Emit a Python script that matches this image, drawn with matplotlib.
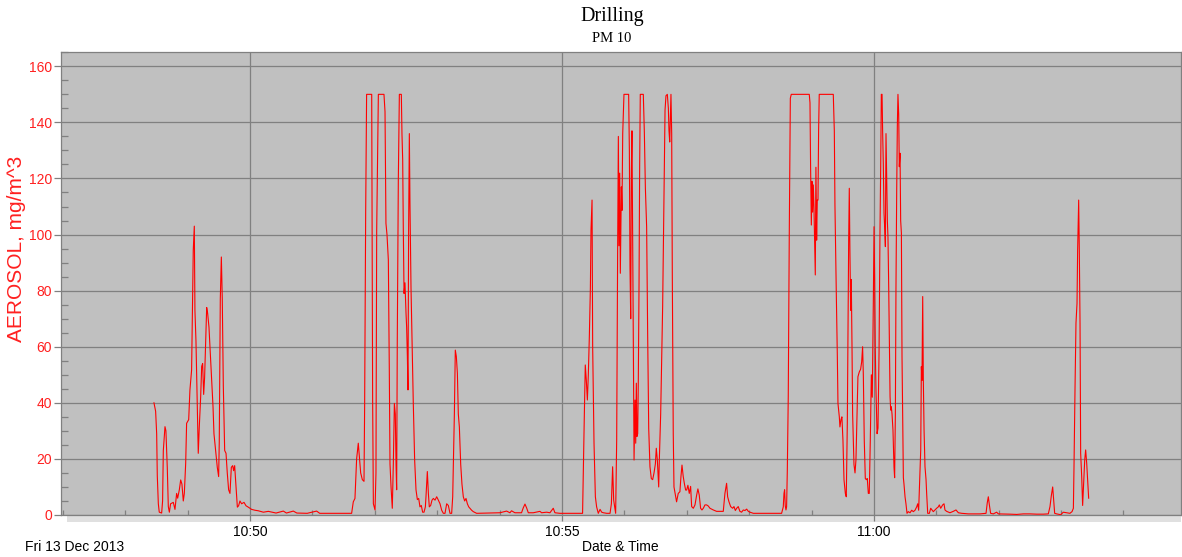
"""Drilling - PM 10 aerosol trace"""

import matplotlib
matplotlib.use('Agg')
import matplotlib.pyplot as plt
import matplotlib.dates as mdates
from matplotlib.patches import Rectangle
from datetime import datetime, timedelta

# seconds after 10:48:00 and aerosol readings (mg/m^3)
burst1_t = [27.6, 29.2, 30.2, 30.8, 31.8, 32.7, 35.0, 35.9, 36.6, 38.2, 39.1, 40.4,
            41.4, 42.4, 43.6, 46.2, 47.8, 49.4, 50.4, 52.0, 53.3, 54.5, 55.8, 56.8,
            58.1, 59.0, 61.0, 62.2, 63.8, 64.5, 65.4, 66.4, 67.0, 68.0, 69.3, 70.2,
            71.2, 72.5, 73.5, 74.4, 75.4, 76.3, 77.3, 78.3, 79.2, 80.5, 81.8, 83.1,
            84.4, 85.3, 87.2, 88.5, 89.8, 90.4, 91.4, 92.4, 93.3, 94.3, 95.6, 96.9,
            98.1, 99.4, 100.7, 102.0, 103.3, 104.2, 105.2, 106.5, 107.8, 109.0, 110.3,
            111.9, 114.2, 116.1, 118.3, 121.5, 124.7, 128.0, 132.8, 137.6]
burst1_v = [40, 37, 29, 14, 4, 1, 0.7, 5, 23, 31.5, 30, 17,
            3, 1, 4, 4.5, 2, 7.7, 6, 9, 12.5, 11, 5, 7.7,
            18.4, 32.7, 34, 44.6, 51.7, 71, 94.5, 103, 73, 62, 38.6, 22,
            31.5, 42, 53, 54, 43, 49, 62, 74, 72, 67, 57.7, 49,
            38.6, 29, 22, 17, 13.7, 26, 77, 92, 77, 46, 23, 22,
            15, 9, 7.7, 17, 17.6, 15.8, 17.6, 10, 2.8, 3.3, 5,
            4, 4.5, 3.3, 2.8, 2, 1.7, 1.5, 1, 1.3]

quiet1_t = [145, 152, 155, 161.6, 165, 175, 184, 187, 200, 217.7]
quiet1_v = [0.7, 1.4, 0.7, 1.4, 0.7, 0.6, 1.4, 0.6, 0.6, 0.6]

burst2_t = [219.3, 220.9, 222.5, 224.1, 225.1, 226.4, 228.0, 229.6, 230.2, 231.2,
            232.1, 237.0, 237.3, 237.9, 238.6, 240.2, 241.1, 241.8, 243.4, 248.8,
            249.8, 250.7, 251.7, 253.0, 253.9, 254.6, 255.6, 256.8, 257.8, 258.8,
            259.7, 260.4, 261.0, 261.6, 262.6, 263.6, 265.5, 266.1, 266.8, 267.4,
            268.1, 269.0, 270.0, 270.6, 271.3, 271.9, 272.5, 273.2, 273.8, 274.8,
            275.7, 277.0, 278.3, 279.6, 280.9, 282.2, 283.4, 284.7, 286.0, 287.3,
            288.6, 289.2, 290.5, 291.5, 292.4, 293.7, 295.0, 296.3, 297.9, 299.5,
            301.1, 302.7, 304.3, 305.9, 307.5, 309.1, 310.7, 312.3, 313.9, 314.9,
            315.5, 316.5, 317.4, 318.4, 319.4, 320.3, 321.3, 322.6, 323.8, 325.1,
            326.4, 327.7, 329.0, 330.3, 331.5, 333.1, 334.7, 337.9]
burst2_v = [4.7, 5.9, 20, 25.6, 21, 15, 12.6, 12, 38.6, 107.6,
            150, 150, 113.5, 41, 4, 1.8, 15, 101.6, 150, 150,
            143.8, 104, 100, 91, 52.9, 18.2, 10, 2.4, 18.2, 39.8,
            36, 18, 9, 62.4, 119.5, 150, 150, 136, 126.6, 101.6,
            79, 82.8, 72, 67, 56.5, 44.6, 101.6, 136, 111, 81,
            63.6, 39.8, 19.6, 9, 5.5, 5.9, 2.9, 3.4, 1, 1,
            2.9, 6.5, 15.5, 7.7, 2.9, 3.4, 5.3, 5.9, 5.3, 6.5,
            5.3, 4, 1.7, 0.6, 0.6, 4, 3.4, 0.6, 0.6, 6.5,
            18, 36, 58.8, 56.5, 50.5, 36, 31.4, 18, 11, 6.5,
            5, 5.9, 4, 2.9, 2.4, 1.7, 1.2, 0.6]

quiet2_t = [360.3, 366.7, 369.9, 371.5, 374.7, 381.1, 382.7, 384.4, 386.0, 387.6,
            392.4, 398.8, 400.4, 405.2, 408.4, 411.6, 413.2, 418.0, 439.8]
quiet2_v = [0.8, 1.4, 0.8, 1.5, 0.8, 0.8, 2.5, 3.9, 2.5, 0.8,
            0.8, 1.3, 0.8, 1.0, 0.8, 2.4, 0.8, 0.6, 0.6]

burst3_t = [440.5, 441.5, 442.4, 443.4, 444.4, 445.3, 446.3, 447.3, 447.9, 448.9,
            449.5, 450.8, 452.1, 453.3, 454.9, 456.6, 458.2, 459.8, 463.0, 466.2,
            467.5, 468.7, 469.7, 470.7, 471.6, 472.6, 473.5, 474.2, 474.8, 475.5,
            476.1, 477.1, 477.7, 478.4, 479.6, 484.1, 484.8, 485.4, 486.1, 486.7,
            487.3, 488.0, 488.6, 489.3, 490.2, 490.9, 491.5, 492.1, 492.8, 493.4,
            494.1, 494.7, 495.3, 498.2, 499.2, 500.2, 501.4, 502.4, 503.4, 504.6,
            505.9, 507.2, 508.5, 509.8, 510.7, 511.7, 513.0, 513.6, 514.9, 515.9,
            516.8, 518.1, 519.1, 520.0, 521.3, 522.3, 522.9, 523.6, 524.2, 524.8,
            525.5, 526.1, 527.0, 527.7, 530.2, 531.8, 533.4, 534.4, 535.4, 536.6,
            537.6, 538.9, 539.9, 541.1, 542.4, 543.7, 544.7, 546.3, 547.9, 549.5,
            550.7, 552.0, 553.3, 554.6, 555.9, 557.5, 559.1, 560.7, 562.3, 565.5,
            568.7, 571.9, 575.1, 576.7, 578.3, 579.3, 580.6, 582.2, 584.1, 585.4,
            586.7, 588.0, 589.5, 591.1, 592.7, 594.4, 596.0, 597.6, 599.2, 600.8,
            604.0, 631.2]
burst3_v = [15.5, 36, 53.5, 48, 41, 49.7, 63.6, 80.8, 101.6, 112.3,
            60, 25.6, 6.5, 2.9, 0.6, 2, 1, 0.8, 0.6, 0.6,
            4, 17.2, 5.3, 2.9, 0.6, 26.7, 93.3, 135, 96, 121.9,
            86.2, 117, 108.6, 136, 150, 150, 130, 88.5, 70, 123,
            137, 93, 62, 19.6, 41, 25.6, 47, 28, 29, 48,
            82.8, 124.8, 150, 150, 136.5, 116.5, 102.8, 64, 30.9, 17.2,
            13, 12.6, 15, 18.2, 23.8, 19.6, 10, 19.6, 36, 55.3,
            74.3, 113.5, 144.4, 149.5, 150, 145, 137, 133, 141.5, 150,
            136, 85, 29, 10, 4.7, 7.7, 8.3, 13.7, 17.8, 13.7,
            11.4, 8.9, 8.9, 10.6, 7.7, 10.2, 3, 2.4, 3.6, 7.1,
            9.3, 7.1, 2.4, 1.8, 2.4, 3.6, 3.6, 3.2, 2.4, 1.8,
            1.3, 1.3, 1.3, 7.7, 11.3, 6.5, 4.7, 3, 2.4, 3,
            1.6, 2.4, 3, 1.3, 1, 1.8, 1.6, 2.1, 1.3, 1,
            0.6, 0.6]

burst4_t = [632.8, 633.5, 634.1, 634.7, 635.4, 636.0, 636.7, 637.6, 638.6, 639.6,
            640.5, 657.8, 658.5, 659.1, 659.8, 660.4, 661.0, 661.7, 662.3, 663.0,
            663.6, 664.2, 664.9, 665.5, 666.2, 666.8, 667.4, 680.9, 681.9, 682.5,
            683.2, 683.8, 684.8, 685.4, 686.7, 687.3, 688.3, 689.2, 690.2, 691.2,
            692.5, 693.4, 694.4, 695.0, 695.7, 696.3, 696.9, 697.6, 698.2, 698.9,
            699.5, 700.8, 701.8, 702.7, 703.7, 704.6, 705.9, 707.2, 708.2, 709.1,
            709.8, 710.7, 711.7, 712.7, 713.6, 714.6, 715.5, 716.5, 717.5, 718.4,
            719.4, 720.1, 720.7, 721.3, 722.0, 723.0, 723.9, 724.9, 725.8, 726.5,
            727.1, 727.8, 728.4, 729.0, 729.7, 730.3, 731.0, 731.6, 732.2, 732.9,
            733.5, 734.2, 734.8, 735.5, 736.1, 736.7, 737.4, 738.3, 739.3, 739.9,
            740.6, 741.2, 741.9, 742.5, 743.1, 743.8, 744.4, 745.1, 745.7, 746.4,
            747.0, 747.6, 748.3, 748.9, 749.9, 750.8, 751.8]
burst4_v = [2.9, 7.7, 9, 3.4, 1.8, 2.9, 16, 42.2, 101.6, 148.6,
            150, 150, 147, 123.6, 103.4, 119, 108, 117.7, 110, 96.9,
            85.6, 124, 98, 112.3, 112.3, 137.3, 150, 150, 137, 110.5,
            92.7, 79.1, 56.5, 39.8, 35, 31.4, 34, 35, 26.7, 12.6,
            7.7, 6.5, 33, 64, 98, 116.5, 94, 73, 84, 60.4,
            36, 18, 15, 19.6, 34.4, 49.3, 51, 52, 54.6, 60,
            50, 26.7, 13, 12.6, 13, 7.7, 7.7, 26.7, 50, 42,
            75.5, 102.8, 84, 58.8, 44, 29, 31, 57.7, 100.5, 124.2,
            150, 150, 136, 125.4, 107.6, 102.8, 95.7, 136, 121.9, 105,
            99, 81.4, 62, 42.2, 37.4, 38.6, 36, 30.3, 17, 13.3,
            36, 81.4, 116, 138.6, 150, 143, 124.2, 129, 105, 100.5,
            56.5, 36, 13.3, 11, 6.5, 4, 0.6]

tail_t = [753.1, 754.7, 756.3, 757.9, 759.5, 761.1, 762.1, 763.0, 764.3, 765.0,
          765.6, 766.2, 766.9, 767.5, 768.2, 769.1, 770.1, 770.7, 771.7, 773.3,
          774.6, 775.8, 777.1, 778.7, 780.3, 781.9, 782.9, 784.2, 786.1, 787.4,
          788.3, 789.9, 793.1, 796.3, 798.9, 801.2, 804.4, 810.8, 822.0, 827.8,
          829.0, 830.0, 831.0, 832.2, 834.8, 838.0, 839.6, 850.8, 857.3, 863.7,
          870.1, 876.5, 882.9, 887.7, 889.3, 890.6, 891.9, 892.8, 893.8, 895.7,
          899.6, 902.1, 908.5, 910.5, 911.8, 912.4, 913.4, 914.3, 915.3, 915.9,
          916.9, 917.5, 918.2, 918.8, 919.8, 920.7, 921.7, 922.7, 923.6, 924.6,
          925.5, 926.5]
tail_v = [1.2, 0.8, 1.7, 1.2, 1.7, 2.9, 4, 1.7, 15, 23.2,
          52.9, 48, 77.9, 48, 30.3, 17.2, 12.6, 7.7, 0.6, 0.6,
          2.4, 1.8, 1.2, 1.8, 2.4, 2.9, 3.6, 2.4, 3.6, 4,
          1.8, 1.3, 0.8, 1.3, 1.8, 0.8, 0.6, 0.4, 0.4, 0.6,
          4.4, 6.5, 3.6, 0.6, 0.4, 1.0, 0.4, 0.3, 0.2, 0.4,
          0.4, 0.3, 0.3, 0.4, 3, 6.9, 10, 5.3, 0.6, 0.4,
          0.1, 1.0, 0.6, 1.2, 2.4, 17.2, 45.8, 68.4, 75.5, 94.4,
          112.3, 94.4, 68.4, 22, 13.7, 3.4, 11.5, 19.6, 23.2, 18.5,
          12.6, 6]

start = datetime(2013, 12, 13, 10, 48, 0)


def main():
    """Build the figure"""
    secs = burst1_t + quiet1_t + burst2_t + quiet2_t + burst3_t + burst4_t + tail_t
    vals = burst1_v + quiet1_v + burst2_v + quiet2_v + burst3_v + burst4_v + tail_v
    times = [start + timedelta(seconds=s) for s in secs]

    plt.rcParams['font.family'] = ['Liberation Sans', 'DejaVu Sans']
    fig = plt.figure(figsize=(11.82, 5.57), dpi=100)
    ax = fig.add_axes([61 / 1182, 42 / 557, 1120 / 1182, 463 / 557])
    ax.set_facecolor('#c0c0c0')

    #light strip under the plot area
    ax.add_patch(Rectangle((0.0054, -0.0155), 0.9946, 0.0155, transform=ax.transAxes,
                           facecolor='#e0e0e0', edgecolor='none', clip_on=False, zorder=0))

    ax.plot(times, vals, color='#ff0000', lw=0.8, zorder=3)

    ax.set_xlim(start + timedelta(seconds=-61.8), start + timedelta(seconds=1015.3))
    ax.set_ylim(0, 165.1)

    ax.xaxis.set_major_locator(mdates.MinuteLocator(byminute=range(0, 60, 5)))
    ax.xaxis.set_minor_locator(mdates.MinuteLocator())
    ax.xaxis.set_major_formatter(mdates.DateFormatter('%H:%M'))
    ax.set_yticks(range(0, 161, 20))
    ax.set_yticks(range(0, 166, 5), minor=True)

    ax.grid(which='major', color='#808080', lw=0.9)
    ax.set_axisbelow(True)
    for sp in ax.spines.values():
        sp.set_color('#808080')
        sp.set_linewidth(0.9)

    ax.tick_params(axis='x', which='major', direction='out', length=4.5, width=0.9,
                   color='#808080', labelsize=10, labelcolor='black', pad=3)
    ax.tick_params(axis='x', which='minor', direction='in', length=3.5, width=0.9,
                   color='#808080')
    ax.tick_params(axis='y', which='major', direction='out', length=5, width=0.9,
                   color='#808080', labelsize=10, labelcolor='#ff2020', pad=1.5)
    ax.tick_params(axis='y', which='minor', direction='in', length=5, width=0.9,
                   color='#808080')

    ax.set_ylabel('AEROSOL, mg/m^3', color='#ff2020', fontsize=15)
    ax.yaxis.set_label_coords(-0.0313, 0.5745)

    fig.text(612 / 1182, 1 - 17 / 557, 'Drilling', ha='center', va='center',
             fontsize=14.5, family='Liberation Serif')
    fig.text(612 / 1182, 1 - 38 / 557, 'PM 10', ha='center', va='center',
             fontsize=10.5, family='Liberation Serif')
    fig.text(25 / 1182, 1 - 547 / 557, 'Fri 13 Dec 2013', ha='left', va='center',
             fontsize=10)
    fig.text(620 / 1182, 1 - 547 / 557, 'Date & Time', ha='center', va='center',
             fontsize=10)

    fig.savefig('out.png', dpi=100)


if __name__ == "__main__":
    main()
